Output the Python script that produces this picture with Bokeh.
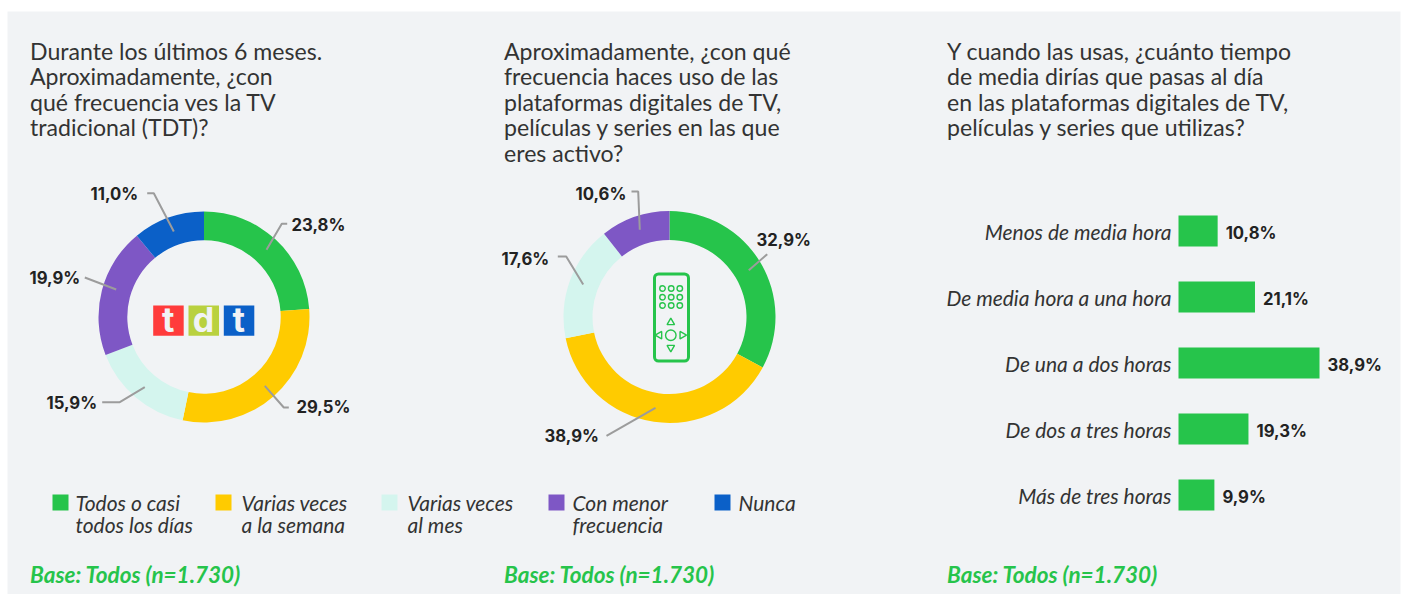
import math
from bokeh.plotting import figure
from bokeh.models import Range1d
from bokeh.core.properties import value
from bokeh.embed import file_html
from bokeh.resources import INLINE

# ---------- data ----------
tdt_values = [23.8, 29.5, 15.9, 19.9, 11.0]
tdt_labels = ["23,8%", "29,5%", "15,9%", "19,9%", "11,0%"]
platform_values = [32.9, 38.9, 17.6, 10.6]
platform_labels = ["32,9%", "38,9%", "17,6%", "10,6%"]
time_categories = ["Menos de media hora", "De media hora a una hora", "De una a dos horas",
                   "De dos a tres horas", "Más de tres horas"]
time_values = [10.8, 21.1, 38.9, 19.3, 9.9]
time_labels = ["10,8%", "21,1%", "38,9%", "19,3%", "9,9%"]
legend_lines = [["Todos o casi", "todos los días"], ["Varias veces", "a la semana"],
                ["Varias veces", "al mes"], ["Con menor", "frecuencia"], ["Nunca"]]
title_1 = ["Durante los últimos 6 meses.", "Aproximadamente, ¿con", "qué frecuencia ves la TV", "tradicional (TDT)?"]
title_2 = ["Aproximadamente, ¿con qué", "frecuencia haces uso de las", "plataformas digitales de TV,",
           "películas y series en las que", "eres activo?"]
title_3 = ["Y cuando las usas, ¿cuánto tiempo", "de media dirías que pasas al día",
           "en las plataformas digitales de TV,", "películas y series que utilizas?"]
base_text = "Base: Todos (n=1.730)"

# ---------- style ----------
GREEN, YELLOW, PALE, PURPLE, BLUE = "#26C44B", "#FFCB00", "#D4F5EE", "#7E57C5", "#0B60C8"
PANEL, INK, LEADER = "#F1F3F5", "#333333", "#9C9C9C"
FONT = value("Lato")
BOLD = value("Inter")
TW, TH = 1408, 594
def Y(py):
    return TH - py

p = figure(width=TW, height=TH, x_range=(0, TW), y_range=(0, TH), output_backend="svg",
           toolbar_location=None, x_axis_location=None, y_axis_location=None, min_border=0,
           background_fill_color="white", border_fill_color="white", outline_line_color=None)
p.grid.visible = False

p.quad(left=[7], right=[1400], bottom=[0], top=[Y(11)], color=PANEL, line_color=None)

def txt(x, py, s, size=21, color=INK, align="left", style="normal", font=FONT):
    p.text([x], [Y(py)], text=[s], text_font=font, text_font_size=f"{size}px", text_color=color,
           text_align=align, text_baseline="middle", text_font_style=style)

# titles
for x, lines in ((29.5, title_1), (503.5, title_2), (946.5, title_3)):
    for i, s in enumerate(lines):
        txt(x, 50 + i * 25.5, s, 23.1)

# donuts
def donut(cx, cy, r0, r1, vals, cols):
    total = sum(vals)
    acc = 0.0
    for v, c in zip(vals, cols):
        a0 = math.pi / 2 - acc / total * 2 * math.pi
        acc += v
        a1 = math.pi / 2 - acc / total * 2 * math.pi
        p.annular_wedge([cx], [Y(cy)], inner_radius=r0, outer_radius=r1, start_angle=a0, end_angle=a1,
                        direction="clock", color=c, line_color=None)

donut(203.5, 316.5, 76.7, 105.5, tdt_values, [GREEN, YELLOW, PALE, PURPLE, BLUE])
donut(669, 316.5, 77, 106, platform_values, [GREEN, YELLOW, PALE, PURPLE])

def leaders(paths):
    p.multi_line([[a[0] for a in q] for q in paths], [[Y(a[1]) for a in q] for q in paths],
                 line_color=LEADER, line_width=2)

leaders([[(266, 249.3), (281.3, 223.3), (286.7, 223.3)],
         [(264.3, 385.3), (283.3, 407), (288.3, 407)],
         [(144.3, 386.7), (119.3, 401.7), (101.7, 401.7)],
         [(115.7, 289), (84.3, 277)],
         [(173.3, 231), (153.3, 192.7), (146.7, 192.7)],
         [(748.3, 269.7), (766.7, 253.7)],
         [(655, 407.3), (606, 435.3)],
         [(582.7, 284), (565.7, 256), (557.3, 256)],
         [(639.3, 229.3), (637.7, 191), (631, 191)]])

for s, x, py in zip(tdt_labels, [291, 296, 46, 29, 90], [224, 406, 402, 277, 193]):
    txt(x, py, s, 16.7, "#222222", style="bold", font=BOLD)
for s, x, py in zip(platform_labels, [756, 544, 501, 575], [239.5, 435, 258, 193]):
    txt(x, py, s, 16.7, "#222222", style="bold", font=BOLD)

# tdt logo
for s, x0, col in zip(["t", "d", "t"], [152.7, 188, 223.3], ["#FF3B3B", "#B9D13F", BLUE]):
    p.quad(left=[x0], right=[x0 + 30.5], bottom=[Y(335.3)], top=[Y(305)], color=col, line_color=None)
    txt(x0 + 15, 319, s, 34, PANEL, "center", "bold", BOLD)

# remote
p.quad(left=[654], right=[688], bottom=[Y(360.5)], top=[Y(273.5)], fill_color=None, line_color=GREEN,
       line_width=3, border_radius=4)
gx, gy = [662, 670.7, 679.3], [288, 296.7, 305]
p.scatter([x for x in gx for _ in gy], [Y(y) for _ in gx for y in gy], marker="circle", size=5.5,
          fill_color=None, line_color=GREEN, line_width=1.4)
p.scatter([670.3], [Y(334.7)], marker="circle", size=10.5, fill_color=None, line_color=GREEN, line_width=1.4)
p.scatter([670.3], [Y(322)], marker="triangle", size=7.5, fill_color=None, line_color=GREEN, line_width=1.4)
p.scatter([670.3], [Y(347)], marker="inverted_triangle", size=7.5, fill_color=None, line_color=GREEN, line_width=1.4)
p.scatter([659], [Y(334.7)], marker="triangle", angle=math.pi / 2, size=7.5, fill_color=None, line_color=GREEN, line_width=1.4)
p.scatter([681.7], [Y(334.7)], marker="triangle", angle=-math.pi / 2, size=7.5, fill_color=None, line_color=GREEN, line_width=1.4)

# bars (own scales)
K, ROW = 3.625, 66.0
X0, ROW0 = 1178, 230.5
p.extra_x_ranges["pct"] = Range1d((0 - X0) / K, (TW - X0) / K)
p.extra_y_ranges["row"] = Range1d((TH - ROW0) / ROW, (0 - ROW0) / ROW)
rows = list(range(len(time_values)))
p.hbar(y=rows, left=0, right=time_values, height=31 / ROW, color=GREEN, line_color=None,
       x_range_name="pct", y_range_name="row")
p.text([0] * 5, rows, text=time_categories, x_offset=-7, y_offset=0.5, text_align="right", text_baseline="middle",
       text_font=FONT, text_font_style="italic", text_font_size="21px", text_color=INK,
       x_range_name="pct", y_range_name="row")
p.text(time_values, rows, text=time_labels, x_offset=8, y_offset=1.5, text_align="left", text_baseline="middle",
       text_font=BOLD, text_font_style="bold", text_font_size="16.7px", text_color="#222222",
       x_range_name="pct", y_range_name="row")

# legend
legend_x = [52, 215, 381, 548, 714]
legend_text_x = [75, 241, 407, 572, 738]
for lines, col, x, tx in zip(legend_lines, [GREEN, YELLOW, PALE, PURPLE, BLUE], legend_x, legend_text_x):
    p.quad(left=[x], right=[x + 16], bottom=[Y(510)], top=[Y(494)], color=col, line_color=None)
    for i, s in enumerate(lines):
        txt(tx, 502 + i * 22, s, 21, style="italic")

# base
for x in (29.5, 503.5, 946.5):
    txt(x, 574, base_text, 22.5, GREEN, style="bold italic")

open("out.html", "w").write(file_html(p, INLINE))
